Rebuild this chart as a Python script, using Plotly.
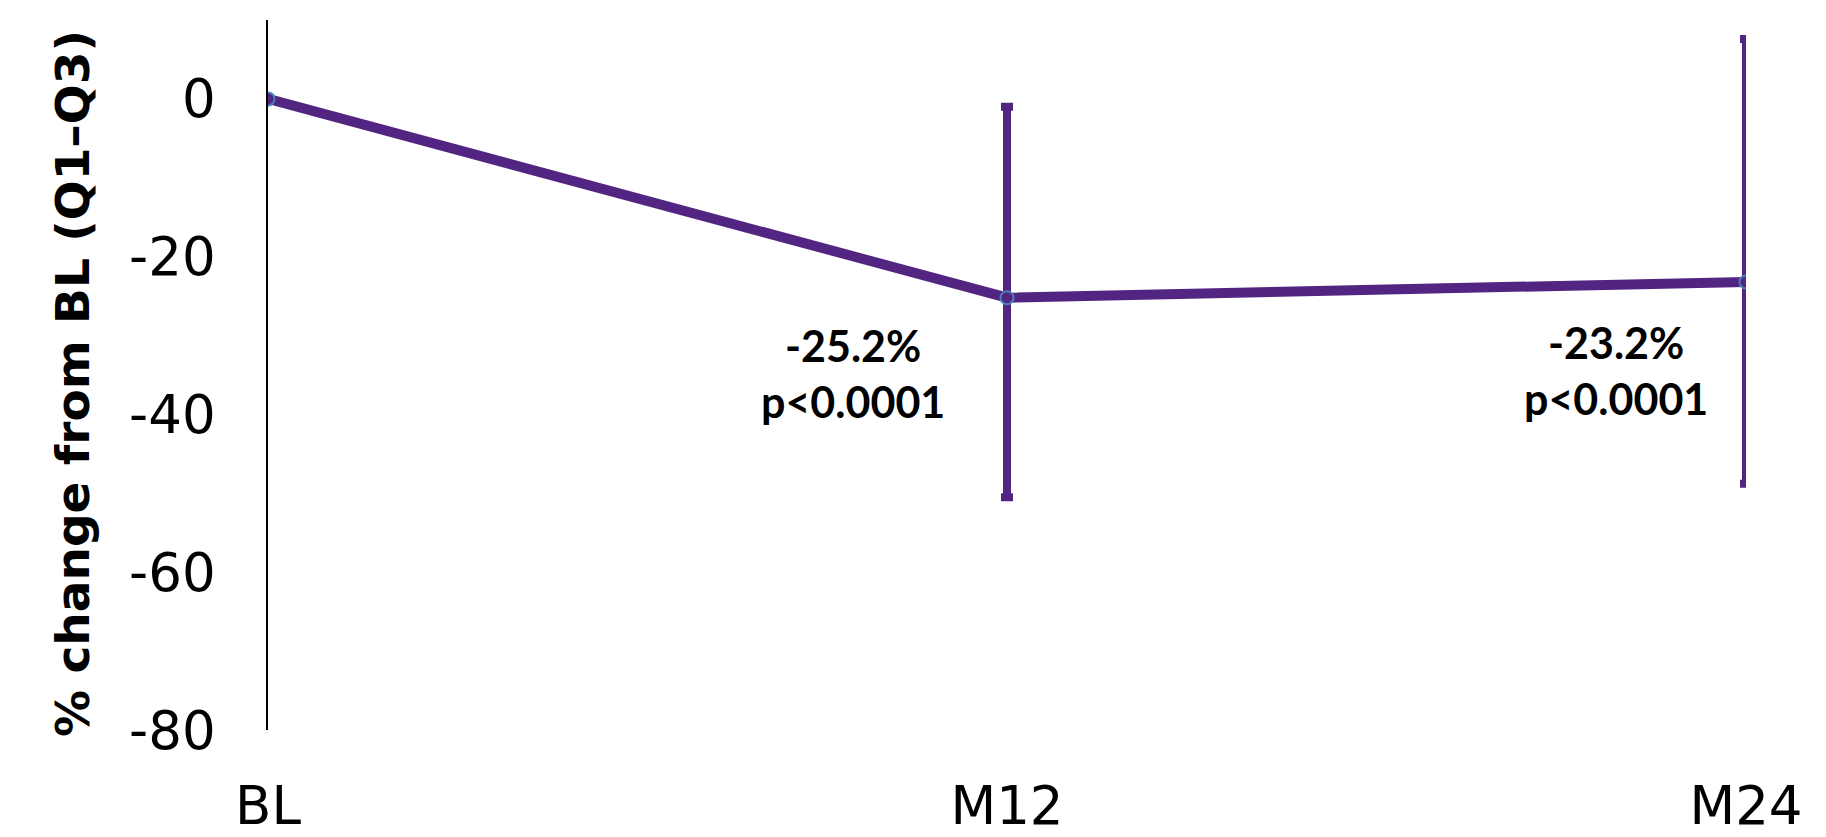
import plotly.graph_objects as go

categories = ["BL", "M12", "M24"]
median_change = [0.0, -25.2, -23.2]
q1 = [0.0, -50.5, -48.8]
q3 = [0.0, -1.0, 7.6]
labels = ["", "<b>-25.2%<br>p<0.0001</b>", "<b>-23.2%<br>p<0.0001</b>"]
y_ticks = [0, -20, -40, -60, -80]

xs = list(range(len(categories)))
err_plus = [q3[i] - median_change[i] for i in xs]
err_minus = [median_change[i] - q1[i] for i in xs]

purple = "#522582"

fig = go.Figure()
fig.add_trace(go.Scatter(
    x=xs, y=median_change, mode="lines+markers",
    line=dict(color=purple, width=10),
    marker=dict(size=13, color=purple, line=dict(color="#4a7ebb", width=2)),
    error_y=dict(type="data", symmetric=False, array=err_plus, arrayminus=err_minus,
                 color=purple, thickness=8, width=6),
    showlegend=False,
))

shifts = [(0, 0), (-154, -76), (-130, -89)]
for i in xs:
    if labels[i]:
        fig.add_annotation(x=xs[i], y=median_change[i], xref="x", yref="y",
                           text=labels[i], showarrow=False,
                           xshift=shifts[i][0], yshift=shifts[i][1],
                           font=dict(family="Lato", size=43, color="black"),
                           align="center")

W, H = 1826, 837
L, T, R, B = 268, 20, 80, 107
pw, ph = W - L - R, H - T - B
title_x_px, title_y_px = 72, 384
fig.add_annotation(xref="paper", x=(title_x_px - L) / pw, xanchor="center",
                   yref="paper", y=(H - B - title_y_px) / ph, yanchor="middle",
                   text="<b>% change from BL (Q1–Q3)</b>", showarrow=False,
                   textangle=-90, font=dict(family="DejaVu Sans", size=47, color="black"))

fig.update_layout(
    width=W, height=H,
    margin=dict(l=L, r=R, t=T, b=B, pad=0),
    paper_bgcolor="white", plot_bgcolor="white",
    font=dict(family="DejaVu Sans", size=53, color="black"),
    xaxis=dict(range=[0, 2], tickvals=xs, ticktext=categories, showgrid=False,
               zeroline=False, showline=False, ticks="", ticklabelstandoff=40,
               automargin=False),
    yaxis=dict(range=[-80, 10], tickvals=y_ticks, ticktext=[str(v) for v in y_ticks],
               showgrid=False, zeroline=False, showline=True, linecolor="black",
               linewidth=1.5, ticks="", ticklabelstandoff=40, automargin=False),
)

fig.write_html("out.html", config={"displayModeBar": False},
               post_script="document.body.style.margin='0';document.body.style.overflow='hidden';")
